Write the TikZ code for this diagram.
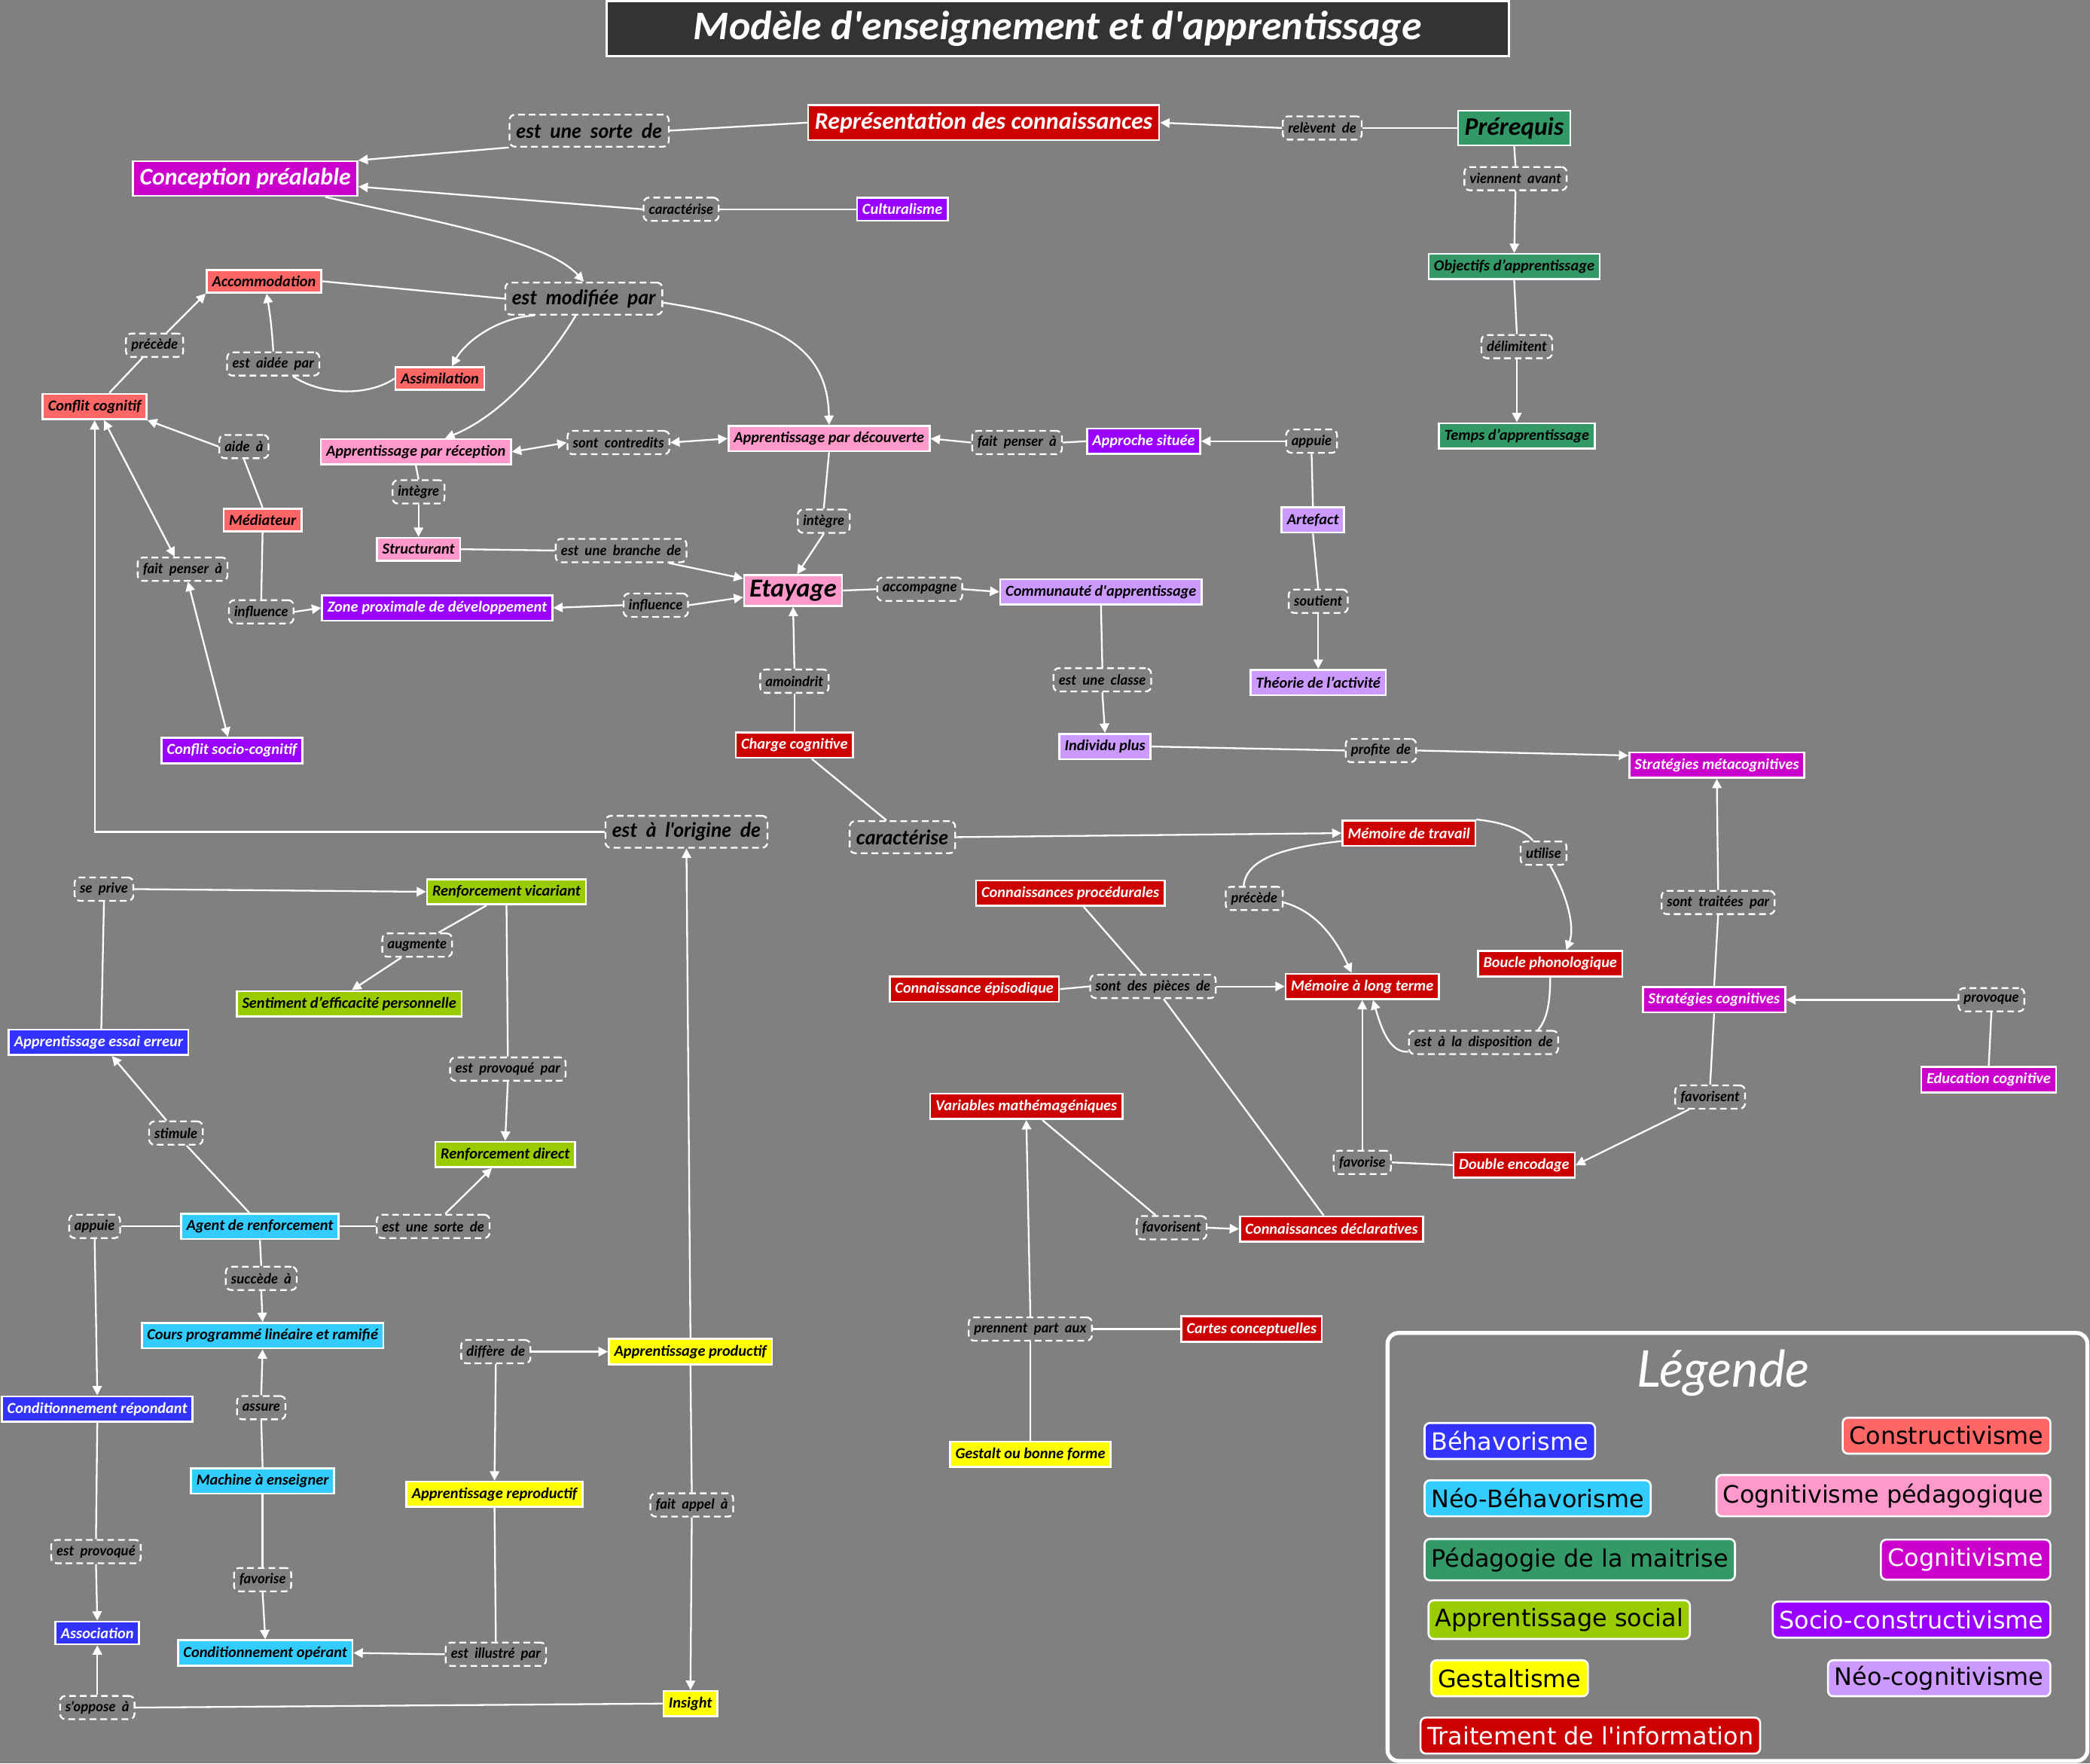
\documentclass[tikz,border=0pt]{standalone}
\usepackage{fontspec}
\setmainfont{Carlito}[Ligatures=TeXOff]
\newfontfamily\lkf{Lato}[Ligatures=TeXOff,WordSpace=2]
\newfontfamily\lgf{DejaVu Sans}[Ligatures=TeXOff]
\usetikzlibrary{arrows.meta}
\definecolor{colBG}{HTML}{808080}
\definecolor{colTT}{HTML}{333333}
\definecolor{colR}{HTML}{CC0000}
\definecolor{colS}{HTML}{FF6666}
\definecolor{colK}{HTML}{FF99CC}
\definecolor{colG}{HTML}{339966}
\definecolor{colM}{HTML}{CC00CC}
\definecolor{colP}{HTML}{9900FF}
\definecolor{colL}{HTML}{CC99FF}
\definecolor{colB}{HTML}{3333FF}
\definecolor{colC}{HTML}{33CCFF}
\definecolor{colV}{HTML}{99CC00}
\definecolor{colY}{HTML}{FFFF00}
\newcommand{\myfs}[1]{\fontsize{#1}{#1}\selectfont}
\begin{document}
\begin{tikzpicture}[x=1pt,y=-1pt,
  cpt/.style={draw=white, line width=1.5pt, inner xsep=4pt, inner ysep=0pt, minimum height=19pt, font=\myfs{11.5}\bfseries\itshape},
  big/.style={minimum height=26pt, inner xsep=5pt, font=\myfs{18}\bfseries\itshape},
  lnk/.style={draw=white, dash pattern=on 5pt off 3pt, line width=1.3pt, rounded corners=4pt, fill=colBG, text=black, inner xsep=4pt, inner ysep=0pt, minimum height=17.5pt, font=\lkf\myfs{10.5}\bfseries\itshape},
  lbig/.style={minimum height=24pt, inner xsep=5pt, font=\lkf\myfs{15}\bfseries\itshape},
  sR/.style={fill=colR, text=white}, sS/.style={fill=colS, text=black},
  sK/.style={fill=colK, text=black}, sG/.style={fill=colG, text=black},
  sM/.style={fill=colM, text=white}, sP/.style={fill=colP, text=white},
  sL/.style={fill=colL, text=black}, sB/.style={fill=colB, text=white},
  sC/.style={fill=colC, text=black}, sV/.style={fill=colV, text=black},
  sY/.style={fill=colY, text=black},
  ln/.style={draw=white, line width=1.3pt},
  arr/.style={draw=white, line width=1.3pt, -{Triangle[length=7pt,width=7pt]}},
  arrd/.style={draw=white, line width=1.3pt, {Triangle[length=7pt,width=7pt]}-{Triangle[length=7pt,width=7pt]}},
  leg/.style={draw=white, line width=1.5pt, rounded corners=4pt, minimum height=27pt, inner xsep=5pt, font=\lgf\myfs{18}}
]
\fill[colBG] (0,0) rectangle (1568,1323);
\useasboundingbox (0,0) rectangle (1568,1323);

% title
\node[draw=white, line width=1.5pt, fill=colTT, text=white, minimum width=677pt, minimum height=41pt, font=\myfs{30.5}\bfseries\itshape] (title) at (793.5,21.5) {Modèle d'enseignement et d'apprentissage};

% concepts
\node[cpt,big,sR] (repr) at (738,92) {Représentation des connaissances};
\node[cpt,big,sG,font=\myfs{19}\bfseries\itshape] (prereq) at (1136,96) {Prérequis};
\node[cpt,big,sM] (concp) at (184,134) {Conception préalable};
\node[cpt,sP,minimum height=17pt] (cultur) at (677,157) {Culturalisme};
\node[cpt,sG] (objec) at (1136,200) {Objectifs d’apprentissage};
\node[cpt,sG] (temps) at (1138,327) {Temps d’apprentissage};
\node[cpt,sS,minimum height=17pt] (accom) at (198,211) {Accommodation};
\node[cpt,sS,minimum height=17pt] (assim) at (330,284) {Assimilation};
\node[cpt,sS] (conflit) at (71,305) {Conflit cognitif};
\node[cpt,sK] (recep) at (312,339) {Apprentissage par réception};
\node[cpt,sK] (decouv) at (622,329) {Apprentissage par découverte};
\node[cpt,sP] (appro) at (858,331) {Approche située};
\node[cpt,sL] (artef) at (985,390) {Artefact};
\node[cpt,sS,minimum height=17pt] (medi) at (197,390) {Médiateur};
\node[cpt,sK,minimum height=17pt] (struct) at (314,412) {Structurant};
\node[cpt,sK,minimum height=23pt,font=\myfs{19.5}\bfseries\itshape] (etay) at (595,443) {Etayage};
\node[cpt,sL] (commu) at (826,444) {Communauté d'apprentissage};
\node[cpt,sP] (zpd) at (328,456) {Zone proximale de développement};
\node[cpt,sL] (theorie) at (989,512) {Théorie de l’activité};
\node[cpt,sR] (charge) at (596,559) {Charge cognitive};
\node[cpt,sL] (indiv) at (829,560) {Individu plus};
\node[cpt,sP] (socio) at (174,563) {Conflit socio-cognitif};
\node[cpt,sM] (metacog) at (1288,574) {Stratégies métacognitives};
\node[cpt,sR] (mdt) at (1057,625) {Mémoire de travail};
\node[cpt,sR] (proced) at (803,670) {Connaissances procédurales};
\node[cpt,sR] (boucle) at (1163,723) {Boucle phonologique};
\node[cpt,sR] (episod) at (731,742) {Connaissance épisodique};
\node[cpt,sR] (mlt) at (1022,740) {Mémoire à long terme};
\node[cpt,sM] (stratcog) at (1286,750) {Stratégies cognitives};
\node[cpt,sM] (educ) at (1492,810) {Education cognitive};
\node[cpt,sR] (varm) at (770,830) {Variables mathémagéniques};
\node[cpt,sR] (double) at (1136,874) {Double encodage};
\node[cpt,sR] (declar) at (999,922) {Connaissances déclaratives};
\node[cpt,sR] (cartes) at (939,997) {Cartes conceptuelles};
\node[cpt,sY] (gestalt) at (773,1091) {Gestalt ou bonne forme};
\node[cpt,sV] (rvic) at (380,669) {Renforcement vicariant};
\node[cpt,sV] (sentim) at (262,753) {Sentiment d’efficacité personnelle};
\node[cpt,sB] (essai) at (74,782) {Apprentissage essai erreur};
\node[cpt,sV] (rdir) at (379,866) {Renforcement direct};
\node[cpt,sC] (agent) at (195,920) {Agent de renforcement};
\node[cpt,sC] (cours) at (197,1002) {Cours programmé linéaire et ramifié};
\node[cpt,sB] (condrep) at (73,1057) {Conditionnement répondant};
\node[cpt,sC] (machine) at (197,1111) {Machine à enseigner};
\node[cpt,sB,minimum height=17pt] (assoc) at (73,1225) {Association};
\node[cpt,sC] (condop) at (199,1240) {Conditionnement opérant};
\node[cpt,sY] (aprod) at (518,1014) {Apprentissage productif};
\node[cpt,sY] (areprod) at (371,1121) {Apprentissage reproductif};
\node[cpt,sY] (insight) at (518,1278) {Insight};

% link labels
\node[lnk,lbig] (esds) at (442,98) {est une sorte de};
\node[lnk] (relev) at (992,96) {relèvent de};
\node[lnk] (vienn) at (1137,134) {viennent avant};
\node[lnk] (caract1) at (511,157) {caractérise};
\node[lnk,lbig] (emp) at (438,224) {est modifiée par};
\node[lnk] (delim) at (1138,260) {délimitent};
\node[lnk] (prec1) at (116,259) {précède};
\node[lnk] (eap) at (205,273) {est aidée par};
\node[lnk] (aide) at (183,335) {aide à};
\node[lnk] (contr) at (464,332) {sont contredits};
\node[lnk] (fpa2) at (763,332) {fait penser à};
\node[lnk] (appuie1) at (984,331) {appuie};
\node[lnk] (integ1) at (314,369) {intègre};
\node[lnk] (integ2) at (618,391) {intègre};
\node[lnk] (branche) at (466,413) {est une branche de};
\node[lnk] (fpa1) at (137,427) {fait penser à};
\node[lnk] (infl1) at (196,459) {influence};
\node[lnk] (infl2) at (492,454) {influence};
\node[lnk] (accomp) at (690,442) {accompagne};
\node[lnk] (sout) at (989,451) {soutient};
\node[lnk] (amoin) at (596,511) {amoindrit};
\node[lnk] (classe) at (827,510) {est une classe};
\node[lnk] (profite) at (1036,563) {profite de};
\node[lnk,lbig] (orig) at (515,624) {est à l'origine de};
\node[lnk,lbig] (caract2) at (677,628) {caractérise};
\node[lnk] (util) at (1158,640) {utilise};
\node[lnk] (seprive) at (78,667) {se prive};
\node[lnk] (prec2) at (941,674) {précède};
\node[lnk] (traitees) at (1289,677) {sont traitées par};
\node[lnk] (augm) at (313,709) {augmente};
\node[lnk] (pieces) at (865,740) {sont des pièces de};
\node[lnk] (provoq) at (1494,750) {provoque};
\node[lnk] (disp) at (1113,782) {est à la disposition de};
\node[lnk] (provpar) at (381,802) {est provoqué par};
\node[lnk] (stim) at (132,850) {stimule};
\node[lnk] (favs1) at (1283,823) {favorisent};
\node[lnk] (favo1) at (1022,872) {favorise};
\node[lnk] (appuie2) at (71,920) {appuie};
\node[lnk] (esds2) at (325,920) {est une sorte de};
\node[lnk] (favs2) at (879,921) {favorisent};
\node[lnk] (succ) at (196,959) {succède à};
\node[lnk] (prennent) at (773,997) {prennent part aux};
\node[lnk] (diff) at (372,1014) {diffère de};
\node[lnk] (assure) at (196,1056) {assure};
\node[lnk] (fapp) at (519,1129) {fait appel à};
\node[lnk] (estprov) at (72,1164) {est provoqué};
\node[lnk] (favo2) at (197,1185) {favorise};
\node[lnk] (illus) at (372,1241) {est illustré par};
\node[lnk] (sopp) at (73,1281) {s'oppose à};

% connectors
\draw[ln] (repr.west) -- (esds.east);
\draw[arr] (esds.south west) -- (concp.north east);
\draw[ln] (prereq.west) -- (relev.east);
\draw[arr] (relev.west) -- (repr.east);
\draw[ln] (prereq.south) -- (vienn.north);
\draw[arr] (vienn.south) -- (objec.north);
\draw[ln] (objec.south) -- (delim.north);
\draw[arr] (delim.south) -- (temps.north);
\draw[ln] (cultur.west) -- (caract1.east);
\draw[arr] (caract1.west) -- ([yshift=-6pt]concp.east);
\draw[arr] ([xshift=60pt]concp.south) .. controls (320,165) and (410,180) .. (emp.north);
\draw[ln] (emp.west) -- (accom.east);
\draw[arr] ([xshift=-37pt]emp.south) .. controls (375,238) and (350,255) .. ([xshift=9pt]assim.north);
\draw[arr] ([xshift=-6pt]emp.south) .. controls (415,265) and (380,310) .. ([xshift=22pt]recep.north);
\draw[arr] ([yshift=-3pt]emp.east) .. controls (580,240) and (621,258) .. (decouv.north);
\draw[ln] ([xshift=11pt]conflit.north) -- ([xshift=-9pt]prec1.south);
\draw[arr] ([xshift=9pt]prec1.north) -- (accom.south west);
\draw[ln] (assim.west) .. controls (275,298) and (240,296) .. ([xshift=15pt]eap.south);
\draw[arr] (eap.north) .. controls (204,245) and (202,232) .. ([xshift=2pt]accom.south);
\draw[ln] (medi.north) -- (aide.south);
\draw[arr] (aide.west) -- (conflit.south east);
\draw[arrd] ([xshift=7pt]conflit.south) -- ([xshift=-6pt]fpa1.north);
\draw[arrd] ([xshift=4pt]fpa1.south) -- ([xshift=-3pt]socio.north);
\draw[arr] (orig.west) -| (conflit.south);
\draw[arr] (aprod.north) -- (orig.south);
\draw[ln] (aprod.south) -- (fapp.north);
\draw[arr] (fapp.south) -- (insight.north);
\draw[ln] (insight.west) -- (sopp.east);
\draw[arr] (sopp.north) -- (assoc.south);
\draw[arrd] (recep.east) -- (contr.west);
\draw[arrd] (contr.east) -- (decouv.west);
\draw[ln] (appro.west) -- (fpa2.east);
\draw[arr] (fpa2.west) -- (decouv.east);
\draw[ln] (artef.north) -- (appuie1.south);
\draw[arr] (appuie1.west) -- (appro.east);
\draw[ln] (artef.south) -- (sout.north);
\draw[arr] (sout.south) -- (theorie.north);
\draw[ln] (recep.south) -- (integ1.north);
\draw[arr] (integ1.south) -- (struct.north);
\draw[ln] (struct.east) -- (branche.west);
\draw[arr] ([xshift=36pt]branche.south) -- ([yshift=9pt]etay.west);
\draw[ln] (decouv.south) -- (integ2.north);
\draw[arr] (integ2.south) -- ([xshift=3pt]etay.north);
\draw[ln] (medi.south) -- (infl1.north);
\draw[arr] (infl1.east) -- (zpd.west);
\draw[arr] (infl2.east) -- ([yshift=-5pt]etay.west);
\draw[arr] (infl2.west) -- (zpd.east);
\draw[ln] (etay.east) -- (accomp.west);
\draw[arr] (accomp.east) -- (commu.west);
\draw[ln] (charge.north) -- (amoin.south);
\draw[arr] (amoin.north) -- (etay.south);
\draw[ln] (commu.south) -- (classe.north);
\draw[arr] (classe.south) -- (indiv.north);
\draw[ln] (indiv.east) -- (profite.west);
\draw[arr] (profite.east) -- ([yshift=-3pt]metacog.north west);
\draw[ln] ([xshift=13pt]charge.south) -- ([xshift=-12pt]caract2.north);
\draw[arr] (caract2.east) -- (mdt.west);
\draw[ln] ([yshift=-6pt]mdt.west) .. controls (960,636) and (935,645) .. ([xshift=-8pt]prec2.north);
\draw[arr] ([yshift=-3pt]prec2.east) .. controls (985,683) and (1000,700) .. ([xshift=-8pt]mlt.north);
\draw[ln] (mdt.north east) .. controls (1130,617) and (1145,624) .. ([xshift=-8pt]util.north);
\draw[arr] ([xshift=5pt]util.south) .. controls (1175,670) and (1182,695) .. ([xshift=12pt]boucle.north);
\draw[ln] (boucle.south) .. controls (1163,755) and (1160,765) .. ([xshift=41pt]disp.north);
\draw[arr] ([yshift=-7pt]disp.west) .. controls (1042,790) and (1036,770) .. ([xshift=8pt]mlt.south);
\draw[ln] (episod.east) -- (pieces.west);
\draw[arr] (pieces.east) -- (mlt.west);
\draw[ln] ([xshift=10pt]proced.south) -- ([xshift=-8pt]pieces.north);
\draw[ln] ([xshift=8pt]pieces.south) -- ([xshift=-6pt]declar.north);
\draw[ln] (stratcog.north) -- (traitees.south);
\draw[arr] (traitees.north) -- (metacog.south);
\draw[ln] (educ.north) -- (provoq.south);
\draw[arr] (provoq.west) -- (stratcog.east);
\draw[ln] (stratcog.south) -- (favs1.north);
\draw[arr] ([xshift=-16pt]favs1.south) -- (double.east);
\draw[ln] (double.west) -- (favo1.east);
\draw[arr] (favo1.north) -- (mlt.south);
\draw[ln] ([xshift=12pt]varm.south) -- ([xshift=-12pt]favs2.north);
\draw[arr] (favs2.east) -- (declar.west);
\draw[ln] (cartes.west) -- (prennent.east);
\draw[arr] (prennent.north) -- (varm.south);
\draw[ln] (gestalt.north) -- (prennent.south);
\draw[ln] ([xshift=2pt]essai.north) -- (seprive.south);
\draw[arr] (seprive.east) -- (rvic.west);
\draw[ln] ([xshift=-15pt]rvic.south) -- ([xshift=16pt]augm.north);
\draw[arr] ([xshift=-12pt]augm.south) -- ([xshift=2pt]sentim.north);
\draw[ln] (rvic.south) -- (provpar.north);
\draw[arr] (provpar.south) -- (rdir.north);
\draw[ln] ([xshift=-8pt]agent.north) -- ([xshift=8pt]stim.south);
\draw[arr] ([xshift=-7pt]stim.north) -- ([xshift=10pt]essai.south);
\draw[ln] (agent.east) -- (esds2.west);
\draw[arr] ([xshift=9pt]esds2.north) -- ([xshift=-10pt]rdir.south);
\draw[ln] (agent.west) -- (appuie2.east);
\draw[arr] (appuie2.south) -- (condrep.north);
\draw[ln] (agent.south) -- (succ.north);
\draw[arr] (succ.south) -- (cours.north);
\draw[ln] (machine.north) -- (assure.south);
\draw[arr] (assure.north) -- (cours.south);
\draw[ln] (machine.south) -- (favo2.north);
\draw[arr] (favo2.south) -- (condop.north);
\draw[ln] (condrep.south) -- (estprov.north);
\draw[arr] (estprov.south) -- (assoc.north);
\draw[ln] (areprod.south) -- (illus.north);
\draw[arr] (illus.west) -- (condop.east);
\draw[arr] (diff.east) -- (aprod.west);
\draw[arr] (diff.south) -- (areprod.north);

% legend
\draw[white, line width=3pt, rounded corners=8pt] (1041,1000) rectangle (1566,1321);
\node[text=white, font=\lkf\myfs{38}\itshape] (legt) at (1293,1030) {Légende};
\node[leg,sB,anchor=west] (lg1) at (1068,1081) {Béhavorisme};
\node[leg,sC,anchor=west] (lg3) at (1068,1124) {Néo-Béhavorisme};
\node[leg,sG,anchor=west,minimum height=31pt] (lg5) at (1068,1170) {Pédagogie de la maitrise};
\node[leg,sV,anchor=west,minimum height=29pt] (lg7) at (1071,1215) {Apprentissage social};
\node[leg,sY,anchor=west] (lg9) at (1073,1259) {Gestaltisme};
\node[leg,sR,anchor=west] (lg11) at (1065,1302) {Traitement de l'information};
\node[leg,sS,anchor=east] (lg2) at (1539,1077) {Constructivisme};
\node[leg,sK,anchor=east,minimum height=31pt] (lg4) at (1539,1122) {Cognitivisme pédagogique};
\node[leg,sM,anchor=east,minimum height=30pt] (lg6) at (1539,1170) {Cognitivisme};
\node[leg,sP,anchor=east] (lg8) at (1539,1215) {Socio-constructivisme};
\node[leg,sL,anchor=east] (lg10) at (1539,1259) {Néo-cognitivisme};
\end{tikzpicture}
\end{document}
